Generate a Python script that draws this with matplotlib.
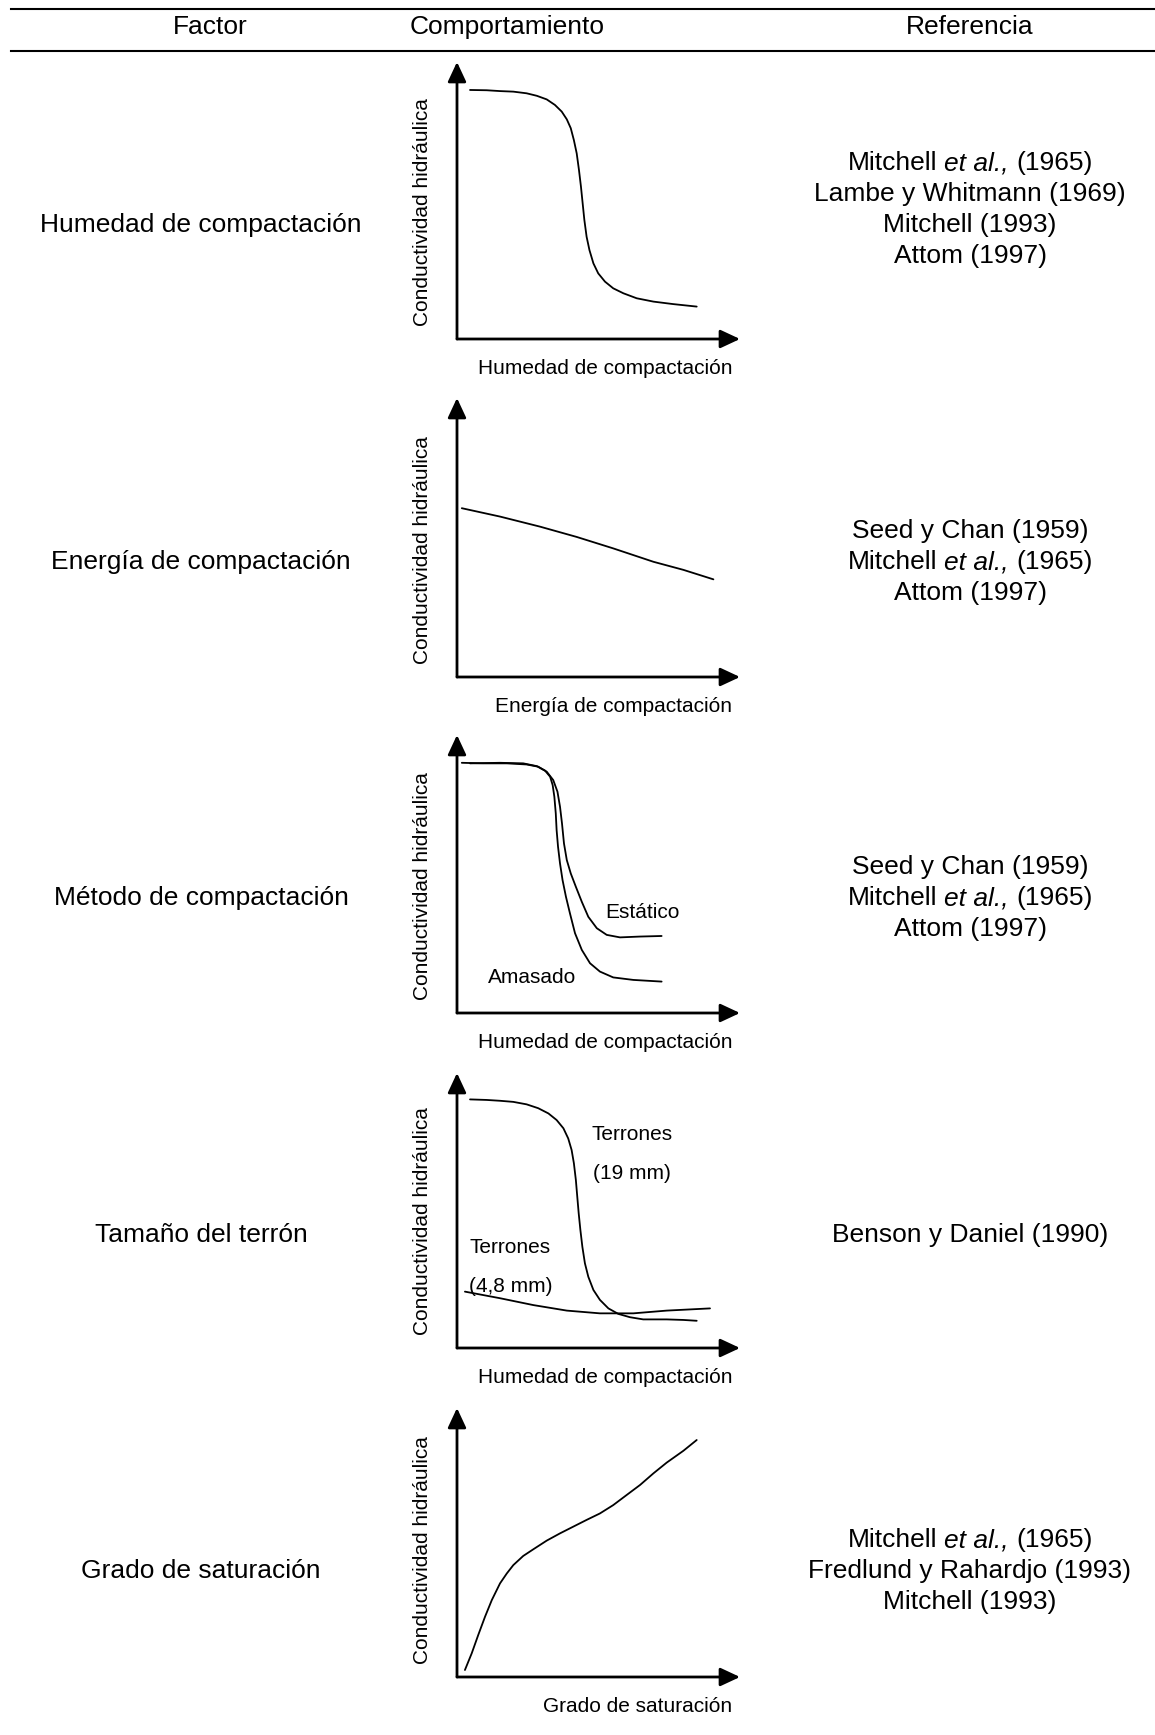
import matplotlib
matplotlib.use("Agg")
import matplotlib.pyplot as plt

plt.rcParams['font.family'] = 'Liberation Sans'

header = ['Factor', 'Comportamiento', 'Referencia']
factores = ['Humedad de compactación', 'Energía de compactación',
            'Método de compactación', 'Tamaño del terrón', 'Grado de saturación']
ET_AL = 'Mitchell et al., (1965)'
referencias = [
    [ET_AL, 'Lambe y Whitmann (1969)', 'Mitchell (1993)', 'Attom (1997)'],
    ['Seed y Chan (1959)', ET_AL, 'Attom (1997)'],
    ['Seed y Chan (1959)', ET_AL, 'Attom (1997)'],
    ['Benson y Daniel (1990)'],
    [ET_AL, 'Fredlund y Rahardjo (1993)', 'Mitchell (1993)'],
]
xlabels = ['Humedad de compactación', 'Energía de compactación',
           'Humedad de compactación', 'Humedad de compactación',
           'Grado de saturación']
ylabel = 'Conductividad hidráulica'

# sketched curves, arbitrary units (axes go 0..10)
humedad_x = [0.46, 1.05, 1.52, 1.99, 2.46, 2.82, 3.17, 3.46, 3.70, 3.88, 4.02, 4.13, 4.23, 4.31,
             4.38, 4.44, 4.50, 4.58, 4.68, 4.82, 4.99, 5.23, 5.52, 5.88, 6.35, 6.94, 7.64, 8.47]
humedad_y = [8.99, 8.98, 8.95, 8.93, 8.87, 8.78, 8.65, 8.45, 8.21, 7.93, 7.61, 7.18, 6.70, 6.10,
             5.50, 4.90, 4.30, 3.69, 3.21, 2.73, 2.37, 2.07, 1.83, 1.65, 1.47, 1.35, 1.26, 1.17]

energia_x = [0.17, 1.52, 2.93, 4.23, 5.52, 6.94, 8.00, 9.06]
energia_y = [6.05, 5.75, 5.39, 5.02, 4.61, 4.13, 3.84, 3.50]

amasado_x = [0.17, 0.93, 1.76, 2.46, 2.87, 3.11, 3.29, 3.38, 3.44, 3.49, 3.52, 3.57, 3.64, 3.73,
             3.85, 3.99, 4.17, 4.41, 4.70, 5.05, 5.52, 6.23, 7.23]
amasado_y = [9.00, 8.98, 8.98, 8.94, 8.86, 8.72, 8.50, 8.20, 7.78, 7.18, 6.58, 5.98, 5.38, 4.78,
             4.18, 3.59, 2.87, 2.27, 1.79, 1.49, 1.28, 1.19, 1.13]
estatico_x = [0.46, 1.52, 2.34, 2.82, 3.17, 3.40, 3.55, 3.64, 3.71, 3.78, 3.88, 4.02, 4.20, 4.41,
              4.64, 4.94, 5.29, 5.76, 6.47, 7.23]
estatico_y = [8.98, 9.00, 8.98, 8.88, 8.68, 8.38, 7.96, 7.42, 6.82, 6.10, 5.50, 5.02, 4.54, 4.00,
              3.46, 3.05, 2.81, 2.72, 2.75, 2.77]

terron19_x = [0.46, 1.05, 1.52, 1.99, 2.46, 2.87, 3.23, 3.52, 3.76, 3.93, 4.05, 4.13, 4.20, 4.25,
              4.30, 4.36, 4.43, 4.52, 4.64, 4.82, 5.05, 5.35, 5.70, 6.11, 6.58, 7.41, 8.00, 8.47]
terron19_y = [9.04, 9.02, 8.99, 8.95, 8.86, 8.72, 8.53, 8.29, 7.99, 7.62, 7.20, 6.72, 6.11, 5.50,
              4.90, 4.29, 3.68, 3.08, 2.59, 2.11, 1.75, 1.44, 1.24, 1.12, 1.04, 1.04, 1.02, 0.99]
terron48_x = [0.28, 1.52, 2.70, 3.88, 5.05, 6.23, 7.41, 8.94]
terron48_y = [2.05, 1.81, 1.56, 1.36, 1.26, 1.26, 1.36, 1.44]

saturacion_x = [0.28, 0.52, 0.75, 0.99, 1.23, 1.52, 1.76, 1.99, 2.34, 2.70, 3.17, 3.64, 4.11,
                4.58, 5.05, 5.52, 6.00, 6.47, 6.94, 7.41, 8.00, 8.47]
saturacion_y = [0.26, 0.88, 1.56, 2.24, 2.86, 3.48, 3.85, 4.16, 4.50, 4.75, 5.07, 5.34, 5.59,
                5.84, 6.08, 6.39, 6.77, 7.14, 7.57, 7.97, 8.41, 8.81]

curvas = [
    [(humedad_x, humedad_y)],
    [(energia_x, energia_y)],
    [(amasado_x, amasado_y), (estatico_x, estatico_y)],
    [(terron19_x, terron19_y), (terron48_x, terron48_y)],
    [(saturacion_x, saturacion_y)],
]
rotulos = [
    [],
    [],
    [('Estático', 6.57, 3.63), ('Amasado', 2.65, 1.26)],
    [('Terrones', 6.18, 7.75), ('(19 mm)', 6.18, 6.36),
     ('Terrones', 1.87, 3.64), ('(4,8 mm)', 1.91, 2.22)],
    [],
]

# layout in pixels
W, H = 1155, 1735
row_y = [225, 562, 898, 1235, 1571]
origin_y = [339, 677, 1013, 1348, 1677]
tip_y = [62, 398, 735, 1073, 1408]
x0, x1 = 457, 740

fig = plt.figure(figsize=(W / 100, H / 100), dpi=100)
bg = fig.add_axes([0, 0, 1, 1])
bg.set_xlim(0, W)
bg.set_ylim(H, 0)
bg.axis('off')
renderer = fig.canvas.get_renderer()


def width_of(s, style='normal', size=19):
    t = bg.text(0, 0, s, fontsize=size, style=style)
    w = t.get_window_extent(renderer).width
    t.remove()
    return w


def centered_ref(xc, y, s):
    if 'et al.,' not in s:
        bg.text(xc, y, s, fontsize=19, ha='center', va='center')
        return
    before, after = s.split('et al.,')
    parts = [(before.strip(), 'normal'), ('et al.,', 'italic'), (after.strip(), 'normal')]
    gap = width_of('M M') - width_of('MM')
    widths = [width_of(p, st) for p, st in parts]
    x = xc - (sum(widths) + 2 * gap) / 2
    for (p, st), w in zip(parts, widths):
        bg.text(x, y, p, fontsize=19, style=st, ha='left', va='center')
        x += w + gap


bg.plot([11, W], [9, 9], color='k', lw=1.5)
bg.plot([11, W], [51, 51], color='k', lw=1.5)
for txt, xc in zip(header, [210, 507, 970]):
    bg.text(xc, 27, txt, fontsize=19, ha='center', va='center')

arrow = dict(arrowstyle='-|>,head_length=0.6,head_width=0.28', lw=2,
             color='k', shrinkA=0, shrinkB=0, mutation_scale=20)

for i in range(5):
    bg.text(201, row_y[i], factores[i], fontsize=19, ha='center', va='center')
    refs = referencias[i]
    for j, r in enumerate(refs):
        yy = row_y[i] + (j - (len(refs) - 1) / 2) * 31
        if len(refs) == 4:
            yy = row_y[i] + (j - 2) * 31
        centered_ref(970, yy, r)

    ax = fig.add_axes([x0 / W, (H - origin_y[i]) / H, (x1 - x0) / W,
                       (origin_y[i] - tip_y[i]) / H])
    ax.set_xlim(0, 10)
    ax.set_ylim(0, 10)
    ax.axis('off')
    ax.annotate('', xy=(0, 1), xytext=(0, 0), xycoords='axes fraction',
                arrowprops=arrow, annotation_clip=False)
    ax.annotate('', xy=(1, 0), xytext=(0, 0), xycoords='axes fraction',
                arrowprops=arrow, annotation_clip=False)
    for cx, cy in curvas[i]:
        ax.plot(cx, cy, color='k', lw=1.3, solid_joinstyle='round',
                solid_capstyle='round')
    for txt, tx, ty in rotulos[i]:
        ax.text(tx, ty, txt, fontsize=15, ha='center', va='center')

    bg.text(422, origin_y[i] - 13, ylabel, fontsize=15, rotation=90,
            ha='center', va='bottom')
    bg.text(732, origin_y[i] + 29, xlabels[i], fontsize=15, ha='right',
            va='center')

fig.savefig('out.png', dpi=100)
